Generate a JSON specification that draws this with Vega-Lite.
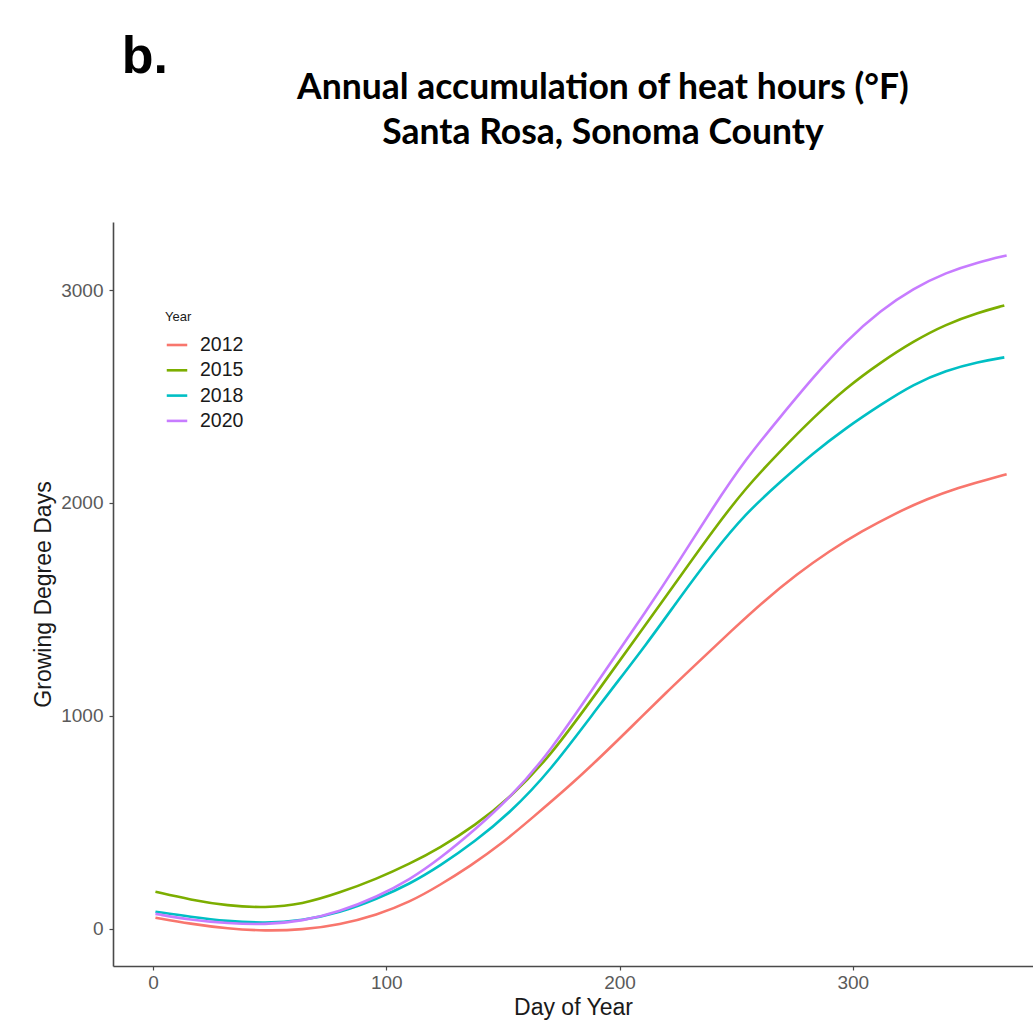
{
  "$schema": "https://vega.github.io/schema/vega-lite/v6.json",
  "width": 920,
  "height": 744,
  "autosize": {"type": "none"},
  "padding": {"left": 113, "top": 222, "right": 0, "bottom": 55},
  "background": "white",
  "config": {
    "view": {"stroke": null},
    "axis": {
      "grid": false,
      "domainColor": "#4a4a4a",
      "domainWidth": 1.6,
      "tickColor": "#4a4a4a",
      "tickSize": 4,
      "tickWidth": 1.2,
      "labelFont": "Liberation Sans",
      "labelFontSize": 19,
      "labelColor": "#5a5a5a",
      "titleFont": "Liberation Sans",
      "titleFontSize": 23,
      "titleFontWeight": "normal",
      "titleColor": "#1a1a1a"
    }
  },
  "datasets": {
    "gdd": [
      {"year": "2012", "day": 1, "gdd": 52}, {"year": "2012", "day": 16, "gdd": 23}, {"year": "2012", "day": 32, "gdd": 0}, {"year": "2012", "day": 48, "gdd": -10}, {"year": "2012", "day": 64, "gdd": -5}, {"year": "2012", "day": 80, "gdd": 19}, {"year": "2012", "day": 96, "gdd": 65}, {"year": "2012", "day": 110, "gdd": 125}, {"year": "2012", "day": 123, "gdd": 205}, {"year": "2012", "day": 136, "gdd": 295}, {"year": "2012", "day": 149, "gdd": 395}, {"year": "2012", "day": 163, "gdd": 525}, {"year": "2012", "day": 178, "gdd": 665}, {"year": "2012", "day": 192, "gdd": 808}, {"year": "2012", "day": 206, "gdd": 958}, {"year": "2012", "day": 220, "gdd": 1110}, {"year": "2012", "day": 234, "gdd": 1255}, {"year": "2012", "day": 248, "gdd": 1400}, {"year": "2012", "day": 262, "gdd": 1540}, {"year": "2012", "day": 276, "gdd": 1665}, {"year": "2012", "day": 290, "gdd": 1775}, {"year": "2012", "day": 304, "gdd": 1868}, {"year": "2012", "day": 318, "gdd": 1950}, {"year": "2012", "day": 332, "gdd": 2020}, {"year": "2012", "day": 346, "gdd": 2075}, {"year": "2012", "day": 356, "gdd": 2105}, {"year": "2012", "day": 366, "gdd": 2135},
      {"year": "2015", "day": 1, "gdd": 174}, {"year": "2015", "day": 16, "gdd": 136}, {"year": "2015", "day": 32, "gdd": 108}, {"year": "2015", "day": 48, "gdd": 98}, {"year": "2015", "day": 64, "gdd": 115}, {"year": "2015", "day": 80, "gdd": 169}, {"year": "2015", "day": 96, "gdd": 235}, {"year": "2015", "day": 110, "gdd": 305}, {"year": "2015", "day": 123, "gdd": 380}, {"year": "2015", "day": 138, "gdd": 485}, {"year": "2015", "day": 153, "gdd": 615}, {"year": "2015", "day": 170, "gdd": 805}, {"year": "2015", "day": 192, "gdd": 1136}, {"year": "2015", "day": 212, "gdd": 1440}, {"year": "2015", "day": 226, "gdd": 1655}, {"year": "2015", "day": 240, "gdd": 1870}, {"year": "2015", "day": 254, "gdd": 2070}, {"year": "2015", "day": 269, "gdd": 2245}, {"year": "2015", "day": 283, "gdd": 2400}, {"year": "2015", "day": 297, "gdd": 2540}, {"year": "2015", "day": 312, "gdd": 2661}, {"year": "2015", "day": 326, "gdd": 2760}, {"year": "2015", "day": 340, "gdd": 2840}, {"year": "2015", "day": 354, "gdd": 2895}, {"year": "2015", "day": 365, "gdd": 2928},
      {"year": "2018", "day": 1, "gdd": 80}, {"year": "2018", "day": 16, "gdd": 56}, {"year": "2018", "day": 32, "gdd": 35}, {"year": "2018", "day": 48, "gdd": 26}, {"year": "2018", "day": 64, "gdd": 38}, {"year": "2018", "day": 80, "gdd": 75}, {"year": "2018", "day": 96, "gdd": 140}, {"year": "2018", "day": 110, "gdd": 210}, {"year": "2018", "day": 123, "gdd": 295}, {"year": "2018", "day": 138, "gdd": 410}, {"year": "2018", "day": 153, "gdd": 545}, {"year": "2018", "day": 170, "gdd": 737}, {"year": "2018", "day": 192, "gdd": 1060}, {"year": "2018", "day": 212, "gdd": 1342}, {"year": "2018", "day": 226, "gdd": 1558}, {"year": "2018", "day": 240, "gdd": 1764}, {"year": "2018", "day": 254, "gdd": 1950}, {"year": "2018", "day": 269, "gdd": 2100}, {"year": "2018", "day": 283, "gdd": 2234}, {"year": "2018", "day": 297, "gdd": 2352}, {"year": "2018", "day": 312, "gdd": 2462}, {"year": "2018", "day": 326, "gdd": 2558}, {"year": "2018", "day": 340, "gdd": 2623}, {"year": "2018", "day": 354, "gdd": 2663}, {"year": "2018", "day": 365, "gdd": 2684},
      {"year": "2020", "day": 1, "gdd": 70}, {"year": "2020", "day": 16, "gdd": 42}, {"year": "2020", "day": 32, "gdd": 25}, {"year": "2020", "day": 48, "gdd": 19}, {"year": "2020", "day": 64, "gdd": 36}, {"year": "2020", "day": 80, "gdd": 80}, {"year": "2020", "day": 96, "gdd": 150}, {"year": "2020", "day": 110, "gdd": 230}, {"year": "2020", "day": 123, "gdd": 330}, {"year": "2020", "day": 138, "gdd": 465}, {"year": "2020", "day": 153, "gdd": 615}, {"year": "2020", "day": 170, "gdd": 826}, {"year": "2020", "day": 192, "gdd": 1183}, {"year": "2020", "day": 212, "gdd": 1500}, {"year": "2020", "day": 226, "gdd": 1735}, {"year": "2020", "day": 240, "gdd": 1978}, {"year": "2020", "day": 254, "gdd": 2205}, {"year": "2020", "day": 269, "gdd": 2405}, {"year": "2020", "day": 283, "gdd": 2590}, {"year": "2020", "day": 297, "gdd": 2760}, {"year": "2020", "day": 312, "gdd": 2905}, {"year": "2020", "day": 326, "gdd": 3008}, {"year": "2020", "day": 340, "gdd": 3083}, {"year": "2020", "day": 354, "gdd": 3132}, {"year": "2020", "day": 366, "gdd": 3163}
    ],
    "tag": [{"label": "b."}],
    "heading": [{"label": "Annual accumulation of heat hours (°F)\nSanta Rosa, Sonoma County"}]
  },
  "layer": [
    {
      "data": {"name": "gdd"},
      "mark": {"type": "line", "interpolate": "basis", "strokeWidth": 2.6},
      "encoding": {
        "x": {
          "field": "day", "type": "quantitative",
          "scale": {"domain": [-17.2, 377.3], "nice": false, "zero": false},
          "axis": {"values": [0, 100, 200, 300], "format": "d", "title": "Day of Year", "titlePadding": 4, "labelPadding": 3}
        },
        "y": {
          "field": "gdd", "type": "quantitative",
          "scale": {"domain": [-175, 3320], "nice": false, "zero": false},
          "axis": {"values": [0, 1000, 2000, 3000], "format": "d", "title": "Growing Degree Days", "titlePadding": 5, "labelPadding": 6}
        },
        "color": {
          "field": "year", "type": "nominal",
          "scale": {"domain": ["2012", "2015", "2018", "2020"], "range": ["#F8766D", "#7CAE00", "#00BFC4", "#C77CFF"]},
          "legend": {
            "title": "Year",
            "orient": "none",
            "legendX": 52,
            "legendY": 89,
            "symbolType": "stroke",
            "symbolSize": 420,
            "symbolStrokeWidth": 2.6,
            "titleFont": "Liberation Sans",
            "titleFontSize": 13,
            "titleFontWeight": "normal",
            "titleColor": "#1a1a1a",
            "titlePadding": 9,
            "labelFont": "Liberation Sans",
            "labelFontSize": 19.5,
            "labelColor": "#1a1a1a",
            "labelOffset": 11,
            "rowPadding": 3.3
          }
        }
      }
    },
    {
      "data": {"name": "tag"},
      "mark": {"type": "text", "font": "Liberation Sans", "fontWeight": "bold", "fontSize": 52, "align": "left", "baseline": "alphabetic", "color": "#000000", "clip": false},
      "encoding": {
        "x": {"datum": -13.5, "type": "quantitative"},
        "y": {"datum": 4020, "type": "quantitative"},
        "text": {"field": "label"}
      }
    },
    {
      "data": {"name": "heading"},
      "mark": {"type": "text", "font": "Lato", "fontWeight": "bold", "fontSize": 35.5, "lineHeight": 45, "lineBreak": "\n", "align": "center", "baseline": "alphabetic", "color": "#000000", "clip": false},
      "encoding": {
        "x": {"datum": 192.9, "type": "quantitative"},
        "y": {"datum": 3898, "type": "quantitative"},
        "text": {"field": "label"}
      }
    }
  ]
}
